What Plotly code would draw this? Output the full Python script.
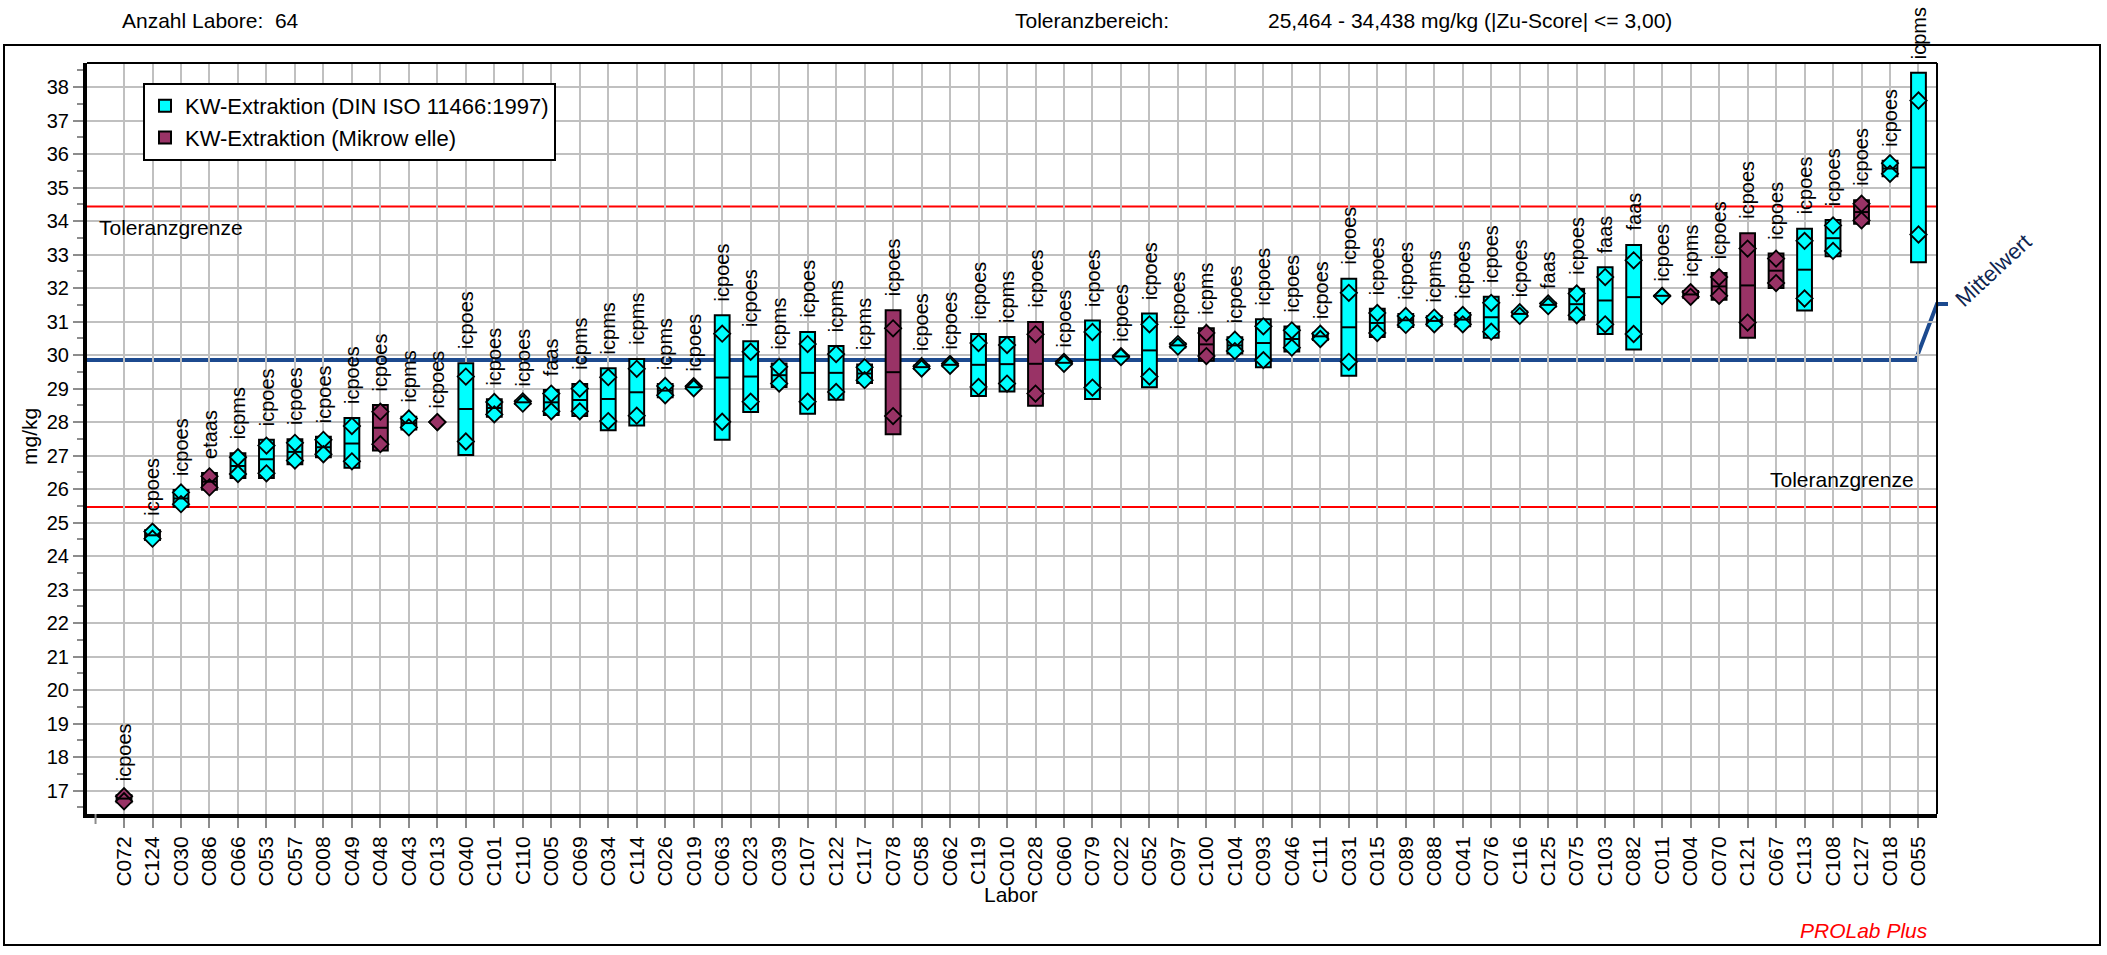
import plotly.graph_objects as go

# Laboratories in ranked order with their measurement method and extraction group
labs = ["C072", "C124", "C030", "C086", "C066", "C053", "C057", "C008", "C049", "C048",
        "C043", "C013", "C040", "C101", "C110", "C005", "C069", "C034", "C114", "C026",
        "C019", "C063", "C023", "C039", "C107", "C122", "C117", "C078", "C058", "C062",
        "C119", "C010", "C028", "C060", "C079", "C022", "C052", "C097", "C100", "C104",
        "C093", "C046", "C111", "C031", "C015", "C089", "C088", "C041", "C076", "C116",
        "C125", "C075", "C103", "C082", "C011", "C004", "C070", "C121", "C067", "C113",
        "C108", "C127", "C018", "C055"]

methods = ["icpoes", "icpoes", "icpoes", "etaas", "icpms", "icpoes", "icpoes", "icpoes", "icpoes", "icpoes",
           "icpms", "icpoes", "icpoes", "icpoes", "icpoes", "faas", "icpms", "icpms", "icpms", "icpms",
           "icpoes", "icpoes", "icpoes", "icpms", "icpoes", "icpms", "icpms", "icpoes", "icpoes", "icpoes",
           "icpoes", "icpms", "icpoes", "icpoes", "icpoes", "icpoes", "icpoes", "icpoes", "icpms", "icpoes",
           "icpoes", "icpoes", "icpoes", "icpoes", "icpoes", "icpoes", "icpms", "icpoes", "icpoes", "icpoes",
           "faas", "icpoes", "faas", "faas", "icpoes", "icpms", "icpoes", "icpoes", "icpoes", "icpoes",
           "icpoes", "icpoes", "icpoes", "icpms"]

# D = KW-Extraktion (DIN ISO 11466:1997), M = KW-Extraktion (Mikrowelle)
groups = ["M", "D", "D", "M", "D", "D", "D", "D", "D", "M",
          "D", "M", "D", "D", "D", "D", "D", "D", "D", "D",
          "D", "D", "D", "D", "D", "D", "D", "M", "D", "D",
          "D", "D", "M", "D", "D", "D", "D", "D", "M", "D",
          "D", "D", "D", "D", "D", "D", "D", "D", "D", "D",
          "D", "D", "D", "D", "D", "M", "M", "M", "M", "D",
          "D", "M", "D", "D"]

# Single results (two replicates per laboratory), mg/kg
rep1 = [16.83, 24.73, 25.90, 26.38, 26.95, 27.30, 27.38, 27.47, 27.88, 28.31,
        28.11, 28.00, 29.36, 28.60, 28.62, 28.85, 29.00, 29.34, 29.59, 29.08,
        29.07, 30.64, 30.10, 29.65, 30.33, 30.03, 29.64, 30.80, 29.67, 29.74,
        30.36, 30.30, 30.62, 29.80, 30.69, 29.97, 30.92, 30.33, 30.66, 30.46,
        30.86, 30.74, 30.64, 31.86, 31.26, 31.17, 31.12, 31.20, 31.56, 31.28,
        31.54, 31.84, 32.33, 32.83, 31.77, 31.88, 32.33, 33.18, 32.88, 33.41,
        33.87, 34.52, 35.73, 37.60]
rep2 = [16.68, 24.52, 25.55, 26.05, 26.45, 26.47, 26.85, 27.04, 26.83, 27.34,
        27.84, 28.00, 27.42, 28.23, 28.55, 28.32, 28.32, 28.03, 28.19, 28.80,
        29.01, 28.01, 28.61, 29.15, 28.61, 28.90, 29.25, 28.18, 29.60, 29.68,
        29.05, 29.15, 28.85, 29.74, 29.03, 29.94, 29.36, 30.25, 29.97, 30.12,
        29.85, 30.22, 30.48, 29.80, 30.66, 30.90, 30.92, 30.92, 30.70, 31.17,
        31.46, 31.19, 30.92, 30.63, 31.76, 31.74, 31.77, 30.97, 32.15, 31.69,
        33.11, 34.02, 35.41, 33.60]

# Laboratory mean values (horizontal bar inside each box)
lab_mean = [16.76, 24.62, 25.72, 26.22, 26.69, 26.89, 27.11, 27.25, 27.36, 27.83,
            27.97, 28.00, 28.39, 28.42, 28.59, 28.59, 28.66, 28.69, 28.89, 28.94,
            29.04, 29.33, 29.36, 29.40, 29.47, 29.47, 29.45, 29.49, 29.64, 29.71,
            29.71, 29.73, 29.74, 29.77, 29.86, 29.96, 30.14, 30.29, 30.32, 30.29,
            30.36, 30.48, 30.56, 30.83, 30.96, 31.04, 31.02, 31.06, 31.13, 31.23,
            31.50, 31.52, 31.63, 31.73, 31.77, 31.81, 32.05, 32.08, 32.52, 32.55,
            33.49, 34.27, 35.57, 35.60]

# Lower and upper edge of each laboratory box
box_low = [16.65, 24.48, 25.47, 25.98, 26.33, 26.33, 26.74, 26.95, 26.64, 27.15,
           27.78, 28.00, 27.02, 28.16, 28.54, 28.21, 28.18, 27.76, 27.90, 28.74,
           29.00, 27.47, 28.30, 29.05, 28.25, 28.67, 29.17, 27.64, 29.59, 29.67,
           28.78, 28.91, 28.49, 29.73, 28.69, 29.94, 29.04, 30.23, 29.83, 30.05,
           29.64, 30.11, 30.45, 29.38, 30.54, 30.84, 30.88, 30.86, 30.52, 31.15,
           31.44, 31.06, 30.63, 30.17, 31.76, 31.71, 31.65, 30.52, 32.00, 31.33,
           32.95, 33.92, 35.34, 32.77]
box_high = [16.86, 24.77, 25.97, 26.48, 27.07, 27.47, 27.49, 27.56, 28.12, 28.51,
            28.16, 28.00, 29.76, 28.68, 28.64, 28.96, 29.14, 29.61, 29.88, 29.14,
            29.08, 31.19, 30.41, 29.75, 30.69, 30.27, 29.72, 31.34, 29.69, 29.75,
            30.63, 30.54, 30.99, 29.81, 31.03, 29.98, 31.24, 30.35, 30.80, 30.53,
            31.07, 30.85, 30.67, 32.28, 31.38, 31.23, 31.16, 31.26, 31.74, 31.30,
            31.56, 31.97, 32.62, 33.29, 31.78, 31.91, 32.45, 33.64, 33.03, 33.77,
            34.03, 34.62, 35.80, 38.43]

mean_value = 29.85
tol_low = 25.464
tol_high = 34.438

group_names = {"D": "KW-Extraktion (DIN ISO 11466:1997)",
               "M": "KW-Extraktion (Mikrow elle)"}
group_colors = {"D": "#00ffff", "M": "#993366"}

FONT = "Liberation Sans, Arial, sans-serif"
GRID = "#c0c0c0"
TICK = "#8c8c8c"
BLUE = "#1c4a8f"

# figure geometry (pixels)
W, H = 2107, 955
ML, MR, MT, MB = 87, 170, 63, 141
PW, PH = W - ML - MR, H - MT - MB
x_min, x_max = -0.3, 64.65
y_min, y_max = 16.3, 38.72
BOX_W = 0.52


def px(xp):
    return (xp - ML) / PW


def py(yp):
    return 1 - (yp - MT) / PH


xs = list(range(1, len(labs) + 1))
fig = go.Figure()

# boxes
for g in ["D", "M"]:
    bx, bh, bb = [], [], []
    for i, x in enumerate(xs):
        if groups[i] == g and box_high[i] - box_low[i] > 0.005:
            bx.append(x)
            bb.append(box_low[i])
            bh.append(box_high[i] - box_low[i])
    fig.add_trace(go.Bar(x=bx, y=bh, base=bb, width=BOX_W, name=group_names[g],
                         marker=dict(color=group_colors[g], line=dict(color="black", width=2)),
                         hoverinfo="skip", showlegend=True))

# single results
for g in ["D", "M"]:
    dx, dy = [], []
    for i, x in enumerate(xs):
        if groups[i] == g:
            dx += [x, x]
            dy += [rep1[i], rep2[i]]
    fig.add_trace(go.Scatter(x=dx, y=dy, mode="markers", showlegend=False, hoverinfo="skip",
                             marker=dict(symbol="diamond", size=12.5, color=group_colors[g],
                                         line=dict(color="black", width=1.8))))

# laboratory means
mx, my = [], []
for i, x in enumerate(xs):
    if box_high[i] - box_low[i] > 0.005:
        mx += [x - BOX_W / 2, x + BOX_W / 2, None]
        my += [lab_mean[i], lab_mean[i], None]
fig.add_trace(go.Scatter(x=mx, y=my, mode="lines", showlegend=False, hoverinfo="skip",
                         line=dict(color="black", width=2)))

shapes = []
# tolerance limits
for v in (tol_low, tol_high):
    shapes.append(dict(type="line", xref="paper", yref="y", x0=0, x1=1, y0=v, y1=v,
                       line=dict(color="#ff0000", width=2), layer="between"))
# assigned value with leader to its label
ym = (mean_value - y_min) / (y_max - y_min)
x_end = (63.9 - x_min) / (x_max - x_min)
shapes.append(dict(type="path", xref="paper", yref="paper",
                   path=f"M 0,{ym} L {x_end},{ym} L 1,{py(304)} L {px(1948)},{py(304)}",
                   line=dict(color=BLUE, width=4), layer="between"))
# frame of the plotting area (top and right edge)
shapes.append(dict(type="line", xref="paper", yref="paper", x0=0, x1=1, y0=1, y1=1,
                   line=dict(color="black", width=2)))
shapes.append(dict(type="line", xref="paper", yref="paper", x0=1, x1=1, y0=0, y1=1,
                   line=dict(color="black", width=2)))
# tick at x = 0
x0p = (0 - x_min) / (x_max - x_min)
shapes.append(dict(type="line", xref="paper", yref="paper", x0=x0p, x1=x0p, y0=0, y1=-10 / PH,
                   line=dict(color=TICK, width=2)))
# outer border
shapes.append(dict(type="rect", xref="paper", yref="paper", x0=px(4), x1=px(2100),
                   y0=py(945), y1=py(45), line=dict(color="black", width=2),
                   fillcolor="rgba(0,0,0,0)"))

annotations = []
# method labels above each laboratory
for i, x in enumerate(xs):
    top = max(box_high[i], rep1[i], rep2[i])
    annotations.append(dict(x=x, y=top, xref="x", yref="y", text=methods[i], textangle=-90,
                            showarrow=False, xanchor="center", yanchor="bottom", yshift=12,
                            font=dict(size=20, color="black", family=FONT)))

annotations += [
    dict(x=px(97), y=tol_high, xref="paper", yref="y", text="Toleranzgrenze", showarrow=False,
         xanchor="left", yanchor="top", yshift=-8, font=dict(size=21, color="black")),
    dict(x=px(1916), y=tol_low, xref="paper", yref="y", text="Toleranzgrenze", showarrow=False,
         xanchor="right", yanchor="bottom", yshift=14, font=dict(size=21, color="black")),
    dict(x=px(1993), y=py(270), xref="paper", yref="paper", text="Mittelwert", showarrow=False,
         textangle=-43, xanchor="center", yanchor="middle",
         font=dict(size=22, color="#0f2550")),
    dict(x=px(120), y=py(21), xref="paper", yref="paper", text="Anzahl Labore:\u00a0 64",
         showarrow=False, xanchor="left", yanchor="middle", font=dict(size=21, color="black")),
    dict(x=px(1013), y=py(21), xref="paper", yref="paper", text="Toleranzbereich:",
         showarrow=False, xanchor="left", yanchor="middle", font=dict(size=21, color="black")),
    dict(x=px(1266), y=py(21), xref="paper", yref="paper",
         text="25,464 - 34,438 mg/kg (|Zu-Score| &lt;= 3,00)",
         showarrow=False, xanchor="left", yanchor="middle", font=dict(size=21, color="black")),
    dict(x=px(29), y=py(437), xref="paper", yref="paper", text="mg/kg", textangle=-90,
         showarrow=False, xanchor="center", yanchor="middle", font=dict(size=21, color="black")),
    dict(x=px(1011), y=py(894), xref="paper", yref="paper", text="Labor",
         showarrow=False, xanchor="center", yanchor="middle", font=dict(size=21, color="black")),
    dict(x=px(1930), y=py(931), xref="paper", yref="paper", text="<i>PROLab Plus</i>",
         showarrow=False, xanchor="right", yanchor="middle", font=dict(size=21, color="#ff0000")),
]

fig.update_layout(
    width=W, height=H,
    margin=dict(l=ML, r=MR, t=MT, b=MB, pad=0),
    paper_bgcolor="white", plot_bgcolor="white",
    font=dict(family=FONT, color="black", size=20),
    barmode="overlay",
    shapes=shapes,
    annotations=annotations,
    legend=dict(x=px(143), y=py(83), xanchor="left", yanchor="top",
                bgcolor="white", bordercolor="black", borderwidth=2,
                font=dict(size=22, color="black"), tracegroupgap=0),
    xaxis=dict(range=[x_min, x_max], tickmode="array", tickvals=xs, ticktext=labs,
               tickangle=-90, tickfont=dict(size=21), ticks="outside", ticklen=10,
               tickwidth=2, tickcolor=TICK, showgrid=True, gridcolor=GRID, gridwidth=1.5,
               showline=True, linecolor="black", linewidth=4, zeroline=False),
    yaxis=dict(range=[y_min, y_max], tick0=0, dtick=1, tickfont=dict(size=20),
               ticks="outside", ticklen=10, tickwidth=2, tickcolor=TICK,
               minor=dict(dtick=0.5, ticks="outside", ticklen=6, tickwidth=2,
                          tickcolor=TICK, showgrid=False),
               showgrid=True, gridcolor=GRID, gridwidth=1.5,
               showline=True, linecolor="black", linewidth=4, zeroline=False),
)

fig.write_html("out.html")
